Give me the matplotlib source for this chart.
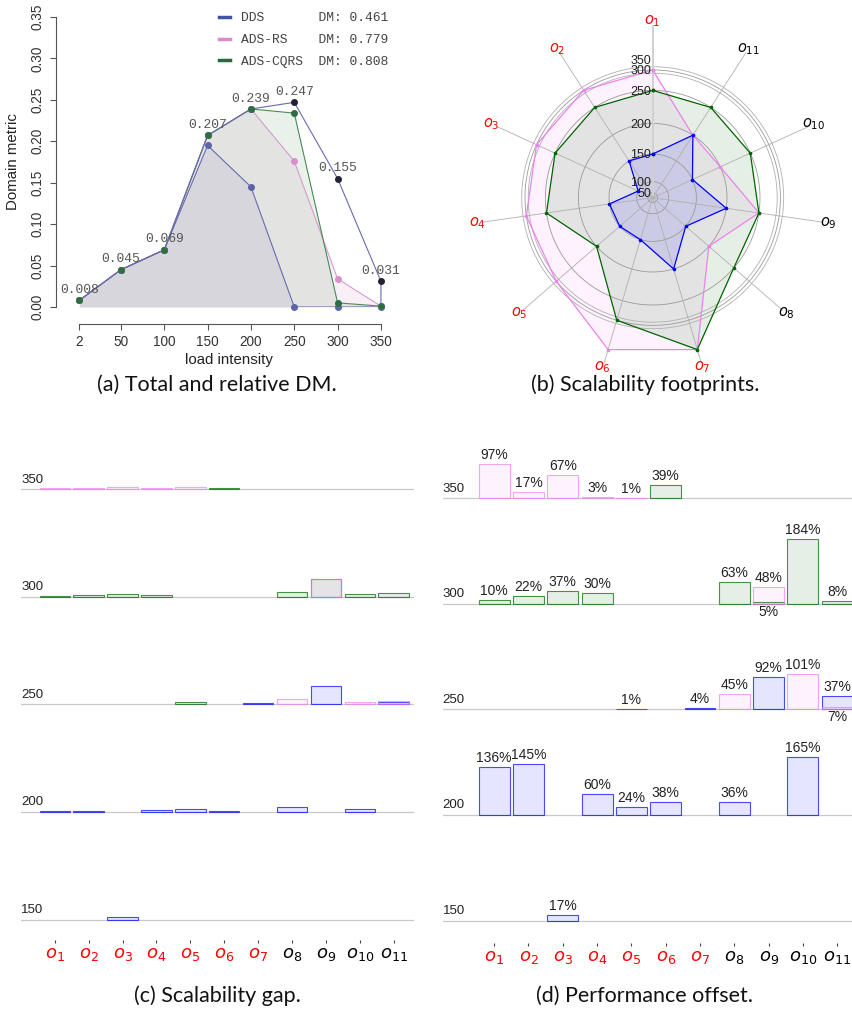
import numpy as np
import matplotlib.pyplot as plt
from matplotlib.lines import Line2D
from matplotlib.colors import to_rgba

W, H = 853, 1017

# ---- panel (a): domain metric per load intensity
loads = [2, 50, 100, 150, 200, 250, 300, 350]
dm_dds = [0.008, 0.045, 0.069, 0.195, 0.145, 0.0, 0.0, 0.0]
dm_rs = [0.008, 0.045, 0.069, 0.207, 0.239, 0.176, 0.034, 0.001]
dm_cqrs = [0.008, 0.045, 0.069, 0.207, 0.239, 0.234, 0.005, 0.001]
dm_max = [0.008, 0.045, 0.069, 0.207, 0.239, 0.247, 0.155, 0.031]
dm_names = ["DDS", "ADS-RS", "ADS-CQRS"]
dm_totals = [0.461, 0.779, 0.808]

# ---- panels (b)-(d): operations
ops = [f"$o_{{{i}}}$" for i in range(1, 12)]
levels = [50, 100, 150, 200, 250, 300, 350]
# scalability footprint = highest load level that still passes
fp_dds = [150, 150, 100, 150, 150, 150, 200, 150, 200, 150, 200]
fp_rs = [300, 300, 300, 300, 300, 350, 350, 200, 250, 200, 200]
fp_cqrs = [250, 250, 250, 250, 200, 300, 350, 250, 250, 250, 250]
# radar radial scale (radius of each load level)
radial_knots = [5, 16, 43.7, 74.3, 107.3, 127.7, 158.3]

# scalability gap (%) at the failing level
gap_dds = [3, 4, 7, 6, 8, 4, 3, 14, 52, 8, 7]
gap_rs = [3, 4, 7, 4, 7, np.nan, np.nan, 15, 50, 8, 10]
gap_cqrs = [3, 4, 8, 6, 8, 3, np.nan, 14, 50, 8, 10]
# performance offset (%) at the failing level
off_dds = [136, 145, 17, 60, 24, 38, 4, 36, 92, 165, 37]
off_rs = [97, 17, 67, 3, 1, np.nan, np.nan, 45, 48, 101, 7]
off_cqrs = [10, 22, 37, 30, 1, 39, np.nan, 63, 5, 184, 8]

pct_to_load = 1 / 6.0

plt.rcParams['font.family'] = ['Liberation Sans', 'DejaVu Sans']
plt.rcParams['mathtext.fontset'] = 'dejavusans'
fig = plt.figure(figsize=(W / 100, H / 100), dpi=100)


def box(x0, y0, x1, y1):
    return [x0 / W, 1 - y1 / H, (x1 - x0) / W, (y1 - y0) / H]


# =============== (a)
ax = fig.add_axes(box(56, 17, 400, 307))
ax.set_xlim(-24.9, 372)
ax.set_ylim(0, 0.35)
pink_a, green_a, slate = '#c87dc0', '#2e7d32', '#6a6ab0'
ax.fill_between(loads, 0, dm_rs, color=pink_a, alpha=0.12, lw=0)
ax.fill_between(loads, 0, dm_cqrs, color=green_a, alpha=0.1, lw=0)
ax.fill_between(loads, 0, dm_dds, color=slate, alpha=0.1, lw=0)
ax.plot(loads, dm_rs, color='#d89ad0', lw=0.8)
ax.plot(loads, dm_cqrs, color='#4a8a5a', lw=0.8)
ax.plot(loads, dm_dds, color=slate, lw=0.8)
ax.plot(loads + [loads[-1]], dm_max + [0], color=slate, lw=0.8)
ax.plot(loads, dm_max, 'o', color='#222233', ms=4, clip_on=False)
ax.plot(loads, dm_dds, 'o', color='#5a64a8', ms=4, clip_on=False)
ax.plot(loads, dm_rs, 'o', color='#d890c8', ms=4, clip_on=False)
ax.plot(loads, dm_cqrs, 'o', color='#2e6e42', ms=4, clip_on=False)
for x, v in zip(loads, dm_max):
    ax.annotate(f"{v:.3f}", (x, v), xytext=(0, 7.5), textcoords='offset points',
                ha='center', va='center', family='Liberation Mono', fontsize=9.4,
                color='#555555')
for s in ['top', 'right']:
    ax.spines[s].set_visible(False)
ax.spines['bottom'].set_position(('outward', 12))
ax.spines['bottom'].set_bounds(2, 350)
for s in ['bottom', 'left']:
    ax.spines[s].set_color('#555555')
    ax.spines[s].set_linewidth(0.8)
ax.set_xticks(loads)
ax.set_xticklabels([str(v) for v in loads])
ax.set_yticks(np.arange(0, 0.351, 0.05))
ax.set_yticklabels([f"{v:.2f}" for v in np.arange(0, 0.351, 0.05)], rotation=90, va='center')
ax.tick_params(colors='#555555', labelcolor='#333333', length=4, width=0.8, labelsize=9.8, pad=4)
ax.set_xlabel("load intensity", fontsize=10.8, color='#222222')
ax.set_ylabel("Domain metric", fontsize=10.8, color='#222222')
ax.xaxis.set_label_coords(0.504, -0.183)
ax.xaxis.label.set_va('center')
ax.yaxis.set_label_coords(-0.125, 0.5)
ax.yaxis.label.set_va('center')
handles = [Line2D([], [], color=c, lw=2.5) for c in ['#3f51a8', '#d88cc8', '#1e6e3c']]
labels = [f"{n:<10}DM: {v:.3f}" for n, v in zip(dm_names, dm_totals)]
ax.legend(handles, labels, loc='upper left', bbox_to_anchor=(219 / W, 1 - 12 / H),
          bbox_transform=fig.transFigure, frameon=False, borderpad=0, borderaxespad=0,
          handlelength=0.85, handletextpad=0.85, labelspacing=0.75,
          prop={'family': 'Liberation Mono', 'size': 9.4}, labelcolor='#444444')

# =============== (b) radar
cx, cy, R = 652.7, 197.7, 186
axr = fig.add_axes(box(cx - R, cy - R, cx + R, cy + R), projection='polar')
axr.set_ylim(0, R)
axr.set_theta_offset(np.pi / 2)
axr.axis('off')
axr.patch.set_alpha(0)


def rscale(v):
    return np.interp(v, [0] + levels, [0] + radial_knots)


theta = 2 * np.pi * np.arange(11) / 11
circ = np.linspace(0, 2 * np.pi, 400)
ring_r = [rscale(v) for v in levels[:-1]]
for r in ring_r:
    axr.plot(circ, np.full_like(circ, r), color='#9a9a9a', lw=0.6)
for r in [ring_r[-1] - 3.2, ring_r[-1] + 3.3]:
    axr.plot(circ, np.full_like(circ, r), color='#b0b0b0', lw=0.6)
for i, t in enumerate(theta):
    if i == 0:
        axr.plot([t, t], [0, 172], color='#d0d0d0', lw=1.4)
    else:
        axr.plot([t, t], [0, 172], color='#b0b0b0', lw=0.6)
for fp, c in [(fp_rs, 'violet'), (fp_cqrs, 'darkgreen'), (fp_dds, 'blue')]:
    rr = rscale(np.array(fp + fp[:1]))
    tt = np.append(theta, theta[0])
    axr.fill(tt, rr, color=c, alpha=0.1, lw=0)
    axr.plot(tt, rr, color=c, lw=0.9, marker='o', ms=1.6)
for v, r in zip(levels[:-1], ring_r):
    axr.annotate(str(v), (0, r - 1.5), xytext=(-1.2, 0), textcoords='offset points',
                 ha='right', va='center', fontsize=9, color='#222222')
axr.annotate(str(levels[-1]), (0, ring_r[-1] + 8.8), xytext=(-1.2, 0), textcoords='offset points',
             ha='right', va='center', fontsize=9, color='#222222')
for i, t in enumerate(theta):
    axr.text(t, 177, ops[i], ha='center', va='center', fontsize=10.5,
             color='red' if i < 7 else 'black')


# =============== (c) and (d) bars
def fail_level(fp):
    return levels[levels.index(fp) + 1] if fp < levels[-1] else None


def bar_panel(rect, xlim, ylim, series, show_pct):
    axb = fig.add_axes(rect)
    axb.set_xlim(*xlim)
    axb.set_ylim(*ylim)
    rows = sorted({fail_level(f) for fps, _, _ in series for f in fps if fail_level(f)})
    for lv in rows:
        axb.axhline(lv, color='#c8c8c8', lw=0.9, zorder=0)
        axb.annotate(str(lv), (xlim[0], lv), xytext=(0, 7), textcoords='offset points',
                     ha='left', va='center', fontsize=9.5, color='#222222')
    cells = {}
    for fps, vals, c in series:
        for i, (f, v) in enumerate(zip(fps, vals)):
            lv = fail_level(f)
            if lv is None or np.isnan(v):
                continue
            cells.setdefault((i, lv), []).append(v)
    for fps, vals, c in series:
        for i, (f, v) in enumerate(zip(fps, vals)):
            lv = fail_level(f)
            if lv is None or np.isnan(v):
                continue
            axb.bar(i + 1, v * pct_to_load, bottom=lv, width=0.9,
                    facecolor=to_rgba(c, 0.1), edgecolor=to_rgba(c, 0.7), lw=0.8)
            if show_pct:
                below = v < max(cells[(i, lv)])
                if below:
                    axb.annotate(f"{v:.0f}%", (i + 1, lv), xytext=(0, -5.5), textcoords='offset points',
                                 ha='center', va='center', fontsize=10, color='#222222')
                else:
                    axb.annotate(f"{v:.0f}%", (i + 1, lv + v * pct_to_load), xytext=(0, 6.5),
                                 textcoords='offset points', ha='center', va='center',
                                 fontsize=10, color='#222222')
    for s in axb.spines.values():
        s.set_visible(False)
    axb.set_yticks([])
    axb.set_xticks(range(1, 12))
    axb.set_xticklabels(ops, fontsize=13)
    for i, lab in enumerate(axb.get_xticklabels()):
        lab.set_color('red' if i < 7 else 'black')
    axb.tick_params(axis='x', length=2, width=0.8, color='#444444', pad=2)
    axb.patch.set_alpha(0)
    return axb


gap_series = [(fp_dds, gap_dds, 'blue'), (fp_cqrs, gap_cqrs, 'darkgreen'), (fp_rs, gap_rs, 'violet')]
off_series = [(fp_dds, off_dds, 'blue'), (fp_cqrs, off_cqrs, 'darkgreen'), (fp_rs, off_rs, 'violet')]
bar_panel(box(21, 455, 414, 940), (0.003, 11.6), (140.6, 365.9), gap_series, False)
bar_panel(box(442.7, 440, 865, 943), (-0.501, 11.81), (139.4, 377.6), off_series, True)

# =============== captions
cap = dict(ha='center', va='center', fontsize=15.5, family=['Lato', 'DejaVu Sans'], color='#111111')
fig.text(217 / W, 1 - 385 / H, "(a) Total and relative DM.", **cap)
fig.text(645 / W, 1 - 385 / H, "(b) Scalability footprints.", **cap)
fig.text(217 / W, 1 - 996 / H, "(c) Scalability gap.", **cap)
fig.text(645 / W, 1 - 996 / H, "(d) Performance offset.", **cap)

fig.savefig("out.png", dpi=100)
